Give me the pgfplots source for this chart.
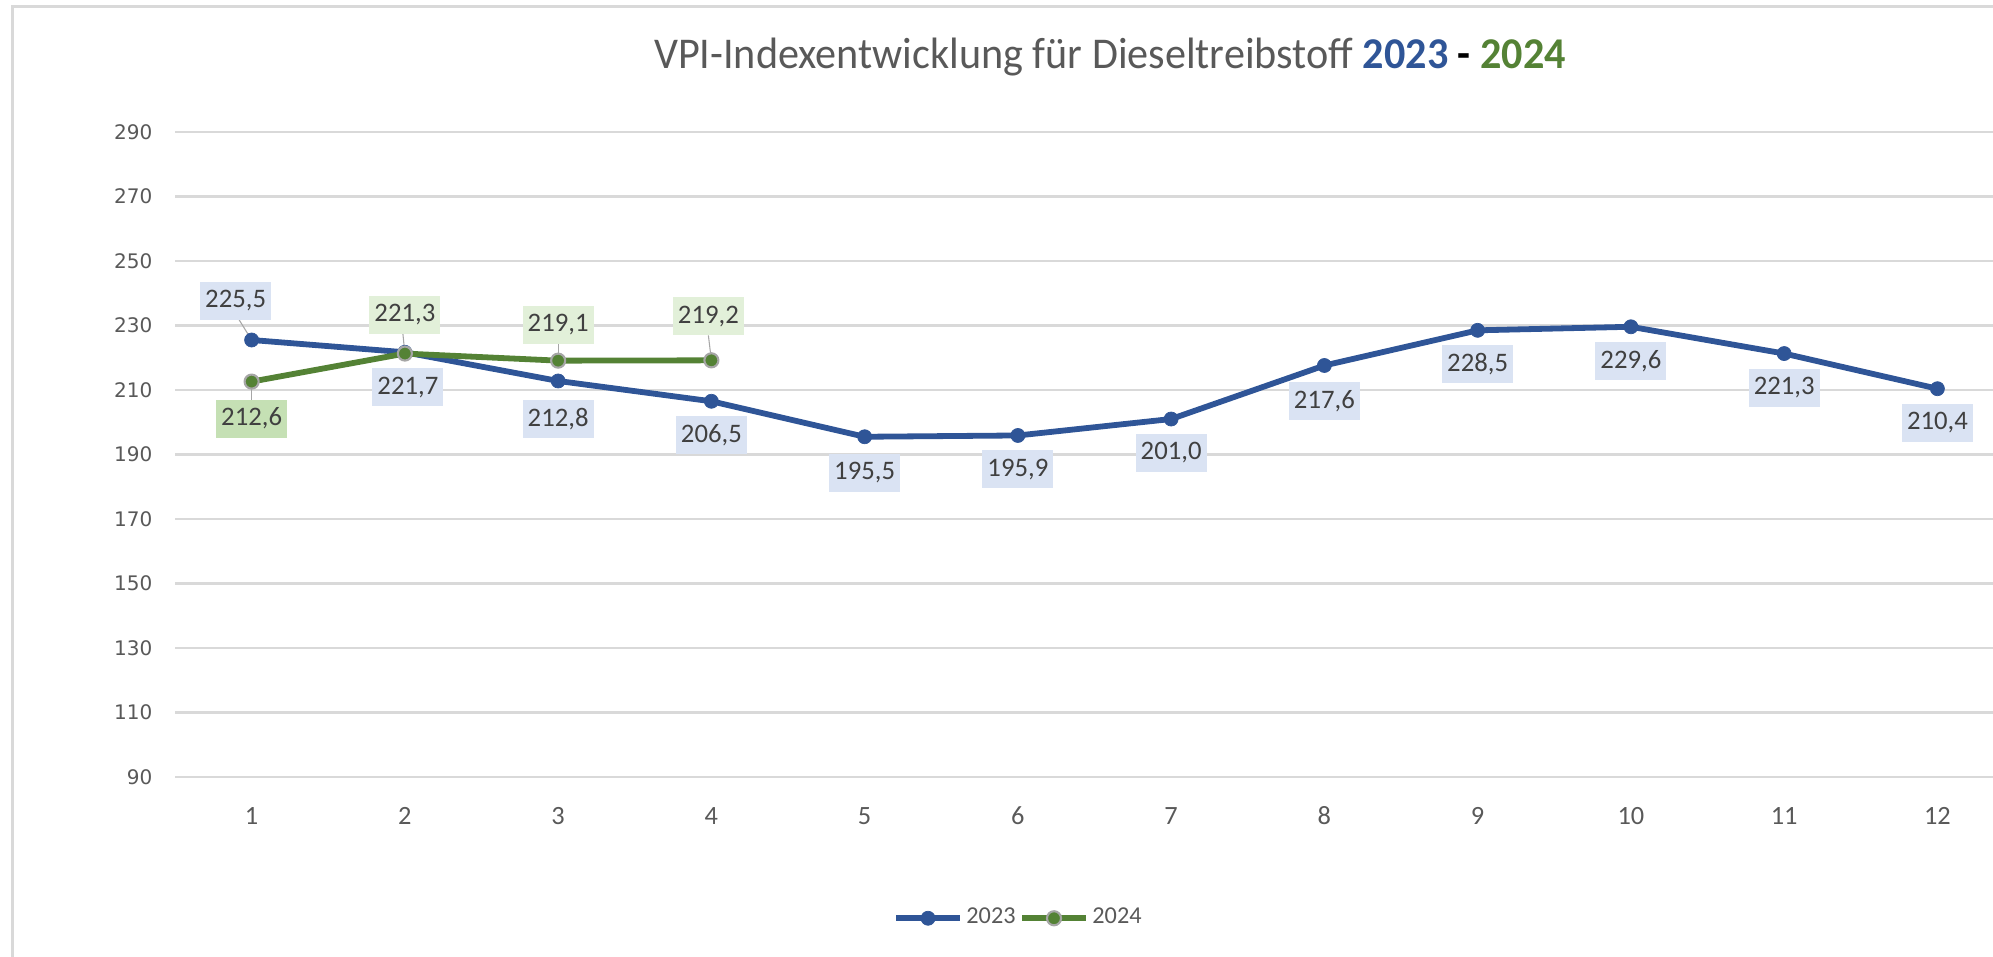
\documentclass[border=0pt]{standalone}
\usepackage{pgfplots}
\pgfplotsset{compat=1.18}
\usepackage{fontspec}
\setmainfont{Carlito}
\newfontfamily\dejavu{DejaVu Sans}
\definecolor{blueS}{HTML}{2F5597}
\definecolor{greenS}{HTML}{548235}
\definecolor{txt}{HTML}{595959}
\definecolor{lbl}{HTML}{404040}
\definecolor{bluebox}{HTML}{DAE3F3}
\definecolor{greenbox}{HTML}{E2F0D9}
\definecolor{greenboxB}{HTML}{C5E0B4}
\definecolor{gridc}{HTML}{D9D9D9}
\definecolor{leader}{HTML}{A6A6A6}
\begin{document}
\begin{tikzpicture}[x=1mm,y=1mm,
  labelB/.style={fill=bluebox, text=lbl, font=\fontsize{7.6}{9}\selectfont, minimum width=7.1mm, minimum height=3.8mm, inner sep=0pt},
  labelG/.style={labelB, fill=greenbox}]
\useasboundingbox (0,0) rectangle (199.3,95.6);
\draw[gridc, line width=0.3mm] (1.2,-5) -- (1.2,94.9) -- (210,94.9);
\node[text=txt, font=\fontsize{12.5}{15}\selectfont] at (111,89.9) {\scalebox{0.96}[1]{VPI-Indexentwicklung für Dieseltreibstoff \textcolor{blueS}{\textbf{2023}} \textcolor{black}{\textbf{-}} \textcolor{greenS}{\textbf{2024}}}};
\begin{axis}[
  at={(17.5mm,17.9mm)}, anchor=south west,
  scale only axis, width=183.9mm, height=64.5mm,
  xmin=0.5, xmax=12.5, ymin=90, ymax=290,
  xtick={1,...,12}, ytick={90,110,...,290},
  axis line style={draw=none}, tick style={draw=none},
  ymajorgrids, grid style={gridc, line width=0.25mm},
  clip=false,
  /pgf/number format/assume math mode=true,
  xticklabel style={font=\fontsize{7.5}{9}\selectfont, text=txt, anchor=center, inner sep=0pt, yshift=-3.9mm},
  yticklabel style={font=\dejavu\fontsize{5.7}{7}\selectfont, text=txt, anchor=east, inner sep=0pt, xshift=-2.2mm},
  legend style={at={(0.459,-0.219)}, anchor=center, draw=none, fill=none,
    legend columns=2, font=\fontsize{6.9}{8}\selectfont, text=txt,
    /tikz/every even column/.append style={column sep=0mm},
    inner sep=0pt, nodes={inner sep=0.35mm}},
  legend image code/.code={\draw[mark repeat=2,mark phase=2] plot coordinates {(0mm,0mm) (3.2mm,0mm) (6.4mm,0mm)};},
]
\addplot[blueS, line width=0.58mm, mark=*, mark size=2.0pt, mark options={fill=blueS, draw=blueS, line width=0.2pt}]
  coordinates {(1,225.5) (2,221.7) (3,212.8) (4,206.5) (5,195.5) (6,195.9) (7,201.0) (8,217.6) (9,228.5) (10,229.6) (11,221.3) (12,210.4)};
\addlegendentry{2023}
\addplot[greenS, line width=0.58mm, mark=*, mark size=2.0pt, mark options={fill=greenS, draw=leader, line width=0.6pt}]
  coordinates {(1,212.6) (2,221.3) (3,219.1) (4,219.2)};
\addlegendentry{2024}
% leader lines
\draw[leader, line width=0.3pt] (axis cs:1,225.5) -- ++(-1.3mm,2.1mm);
\draw[leader, line width=0.3pt] (axis cs:1,212.6) -- ++(0mm,-1.8mm);
\draw[leader, line width=0.3pt] (axis cs:2,221.3) -- ++(-0.2mm,2.0mm);
\draw[leader, line width=0.3pt] (axis cs:3,219.1) -- ++(0mm,1.7mm);
\draw[leader, line width=0.3pt] (axis cs:4,219.2) -- ++(-0.3mm,2.5mm);
% 2023 labels
\node[labelB, xshift=-1.6mm, yshift=3.9mm] at (axis cs:1,225.5) {225,5};
\node[labelB, xshift=0.3mm, yshift=-3.5mm] at (axis cs:2,221.7) {221,7};
\node[labelB, yshift=-3.8mm] at (axis cs:3,212.8) {212,8};
\node[labelB, yshift=-3.4mm] at (axis cs:4,206.5) {206,5};
\node[labelB, yshift=-3.6mm] at (axis cs:5,195.5) {195,5};
\node[labelB, yshift=-3.4mm] at (axis cs:6,195.9) {195,9};
\node[labelB, yshift=-3.4mm] at (axis cs:7,201.0) {201,0};
\node[labelB, yshift=-3.6mm] at (axis cs:8,217.6) {217,6};
\node[labelB, yshift=-3.4mm] at (axis cs:9,228.5) {228,5};
\node[labelB, yshift=-3.4mm] at (axis cs:10,229.6) {229,6};
\node[labelB, yshift=-3.4mm] at (axis cs:11,221.3) {221,3};
\node[labelB, yshift=-3.4mm] at (axis cs:12,210.4) {210,4};
% 2024 labels
\node[labelG, fill=greenboxB, yshift=-3.7mm] at (axis cs:1,212.6) {212,6};
\node[labelG, yshift=3.9mm] at (axis cs:2,221.3) {221,3};
\node[labelG, yshift=3.6mm] at (axis cs:3,219.1) {219,1};
\node[labelG, xshift=-0.3mm, yshift=4.4mm] at (axis cs:4,219.2) {219,2};
\end{axis}
\end{tikzpicture}
\end{document}
